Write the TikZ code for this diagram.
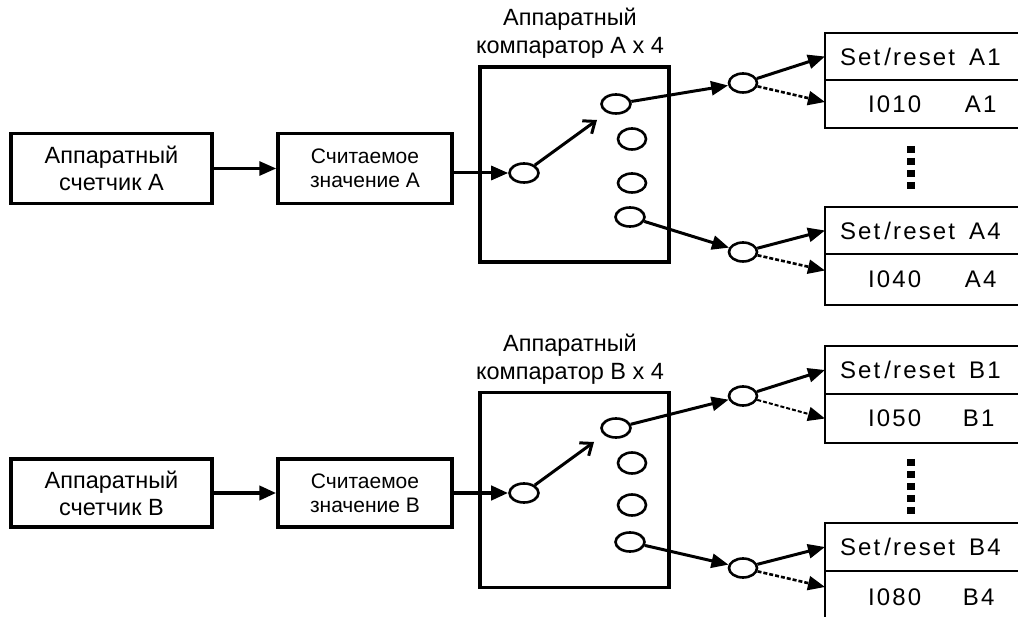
\documentclass[tikz,border=0pt]{standalone}
\usepackage{fontspec}
\setmainfont{Liberation Sans}
\newfontfamily\srfont[LetterSpace=9]{Liberation Sans}
\usetikzlibrary{arrows.meta,calc,positioning,shapes.geometric}

\begin{document}
\begin{tikzpicture}[x=1pt, y=-1pt, >={Triangle[length=17pt,width=14pt]},
	cnt/.style={draw, line width=3.5pt, minimum width=201pt, minimum height=70pt, align=center, font=\fontsize{23.5}{27}\selectfont},
	val/.style={draw, line width=3.5pt, minimum width=174pt, minimum height=70pt, align=center, font=\fontsize{21}{24}\selectfont},
	cmp/.style={draw, line width=3.5pt, minimum width=189pt, minimum height=195pt},
	ttl/.style={align=center, font=\fontsize{23.5}{28}\selectfont},
	lamp/.style={draw, ellipse, line width=2.6pt, inner sep=0pt, minimum width=29pt, minimum height=19pt},
	reg/.style={draw, line width=2.8pt, anchor=north west, outer sep=0pt, text width=190pt, align=left, inner xsep=15pt, inner ysep=0pt, minimum height=48pt, font=\srfont\fontsize{24}{28}\selectfont},
	arr/.style={->, line width=3pt},
	darr/.style={->, line width=2.6pt, dash pattern=on 4pt off 2pt},
	sw/.style={-{Straight Barb[length=10pt,width=16pt]}, line width=3pt},
	dots/.style={line width=8pt, dash pattern=on 7pt off 5pt}
	]
	
	\clip (0,0) rectangle (1018,617);
	
	% group A
	\node[cnt] (cntA) at (111.5,168.5) {Аппаратный\\счетчик A};
	\node[val] (valA) at (365,168.5) {Считаемое\\значение A};
	\node[cmp] (cmpA) at (574.5,164.5) {};
	\node[ttl] (ttlA) at (570,33) {Аппаратный\\компаратор A x 4};
	
	\node[lamp] (inA) at (524,173) {};
	\node[lamp] (oA1) at (616,104) {};
	\node[lamp, minimum width=28pt, minimum height=21pt] (oA2) at (632,139) {};
	\node[lamp, minimum width=28pt] (oA3) at (632,183) {};
	\node[lamp] (oA4) at (630,217) {};
	\node[lamp, minimum width=28pt] (swA1) at (743,83) {};
	\node[lamp, minimum width=28pt] (swA4) at (743,252) {};
	\coordinate (tipA) at (597,120);
	
	\node[reg, minimum height=47pt] (setA1) at (825,33) {Set\hspace{4pt}/reset\hspace{14pt}A1};
	\node[reg, below=0pt of setA1] (outA1) {\hspace{28pt}\makebox[97pt][l]{I010}A1};
	\node[reg, minimum height=47pt] (setA4) at (825,207) {Set\hspace{4pt}/reset\hspace{14pt}A4};
	\node[reg, below=0pt of setA4, minimum height=51pt] (outA4) {\hspace{28pt}\makebox[97pt][l]{I040}A4};
	
	\draw[arr] (cntA) -- (valA);
	\draw[arr] (valA.east |- inA) -- (inA);
	\draw[sw] (inA) -- (tipA);
	\draw[arr] (oA1) -- (swA1);
	\draw[arr] (oA4) -- (swA4);
	\draw[arr] (swA1) -- (setA1.west);
	\draw[darr] (swA1) -- ([yshift=2pt]outA1.west);
	\draw[arr] (swA4) -- (setA4.west);
	\draw[darr] (swA4) -- ([yshift=9pt]outA4.west);
	\draw[dots] (911,146) -- (911,191);
	
	% group B
	\node[cnt, minimum height=68pt] (cntB) at (111.5,493) {Аппаратный\\счетчик B};
	\node[val, minimum height=68pt] (valB) at (365,493) {Считаемое\\значение B};
	\node[cmp] (cmpB) at (574.5,490) {};
	\node[ttl] (ttlB) at (570,359) {Аппаратный\\компаратор B x 4};
	
	\node[lamp] (inB) at (524,493) {};
	\node[lamp] (oB1) at (616,428) {};
	\node[lamp, minimum width=28pt, minimum height=21pt] (oB2) at (632,463) {};
	\node[lamp, minimum width=28pt, minimum height=21pt] (oB3) at (632,505) {};
	\node[lamp] (oB4) at (630,542) {};
	\node[lamp, minimum width=28pt] (swB1) at (743,396) {};
	\node[lamp, minimum width=28pt] (swB4) at (743,568) {};
	\coordinate (tipB) at (594,442);
	
	\node[reg] (setB1) at (825,346) {Set\hspace{4pt}/reset\hspace{14pt}B1};
	\node[reg, below=0pt of setB1, minimum height=49pt] (outB1) {\hspace{28pt}\makebox[95pt][l]{I050}B1};
	\node[reg] (setB4) at (825,523) {Set\hspace{4pt}/reset\hspace{14pt}B4};
	\node[reg, below=0pt of setB4, minimum height=52pt] (outB4) {\hspace{28pt}\makebox[95pt][l]{I080}B4};
	
	\draw[arr, line width=4pt] (cntB) -- (valB);
	\draw[arr, line width=4pt] (valB.east |- inB) -- (inB);
	\draw[sw] (inB) -- (tipB);
	\draw[arr] (oB1) -- (swB1);
	\draw[arr] (oB4) -- (swB4);
	\draw[arr] (swB1) -- (setB1.west);
	\draw[darr, line width=2pt] (swB1) -- (outB1.west);
	\draw[arr] (swB4) -- (setB4.west);
	\draw[darr] (swB4) -- ([yshift=10pt]outB4.west);
	\draw[dots] (911,459) -- (911,516);
	
\end{tikzpicture}
\end{document}
